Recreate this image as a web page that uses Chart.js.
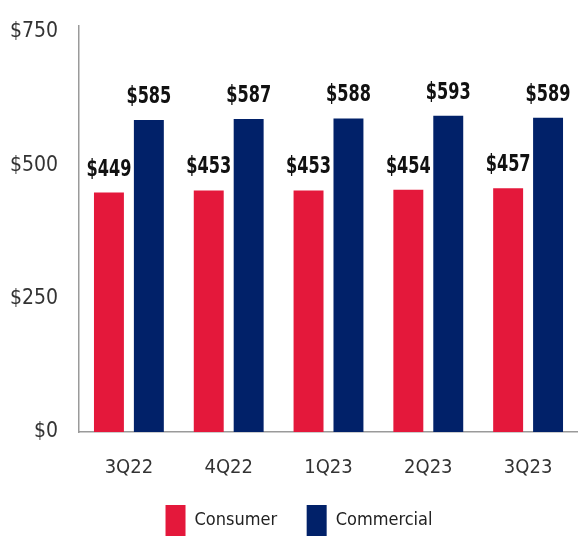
<!DOCTYPE html>
<html>
<head>
<meta charset="utf-8">
<script src="https://cdn.jsdelivr.net/npm/chart.js@4"></script>
<style>
  html, body { margin: 0; padding: 0; background: #fff; }
  #wrap { width: 578px; height: 542px; }
</style>
</head>
<body>
<div id="wrap"><canvas id="chart_depositos"></canvas></div>
<script>
const quarters = ["3Q22", "4Q22", "1Q23", "2Q23", "3Q23"];
const consumer = [449, 453, 453, 454, 457];
const commercial = [585, 587, 588, 593, 589];
const y_ticks = [0, 250, 500, 750];

const fuente = "'DejaVu Sans Condensed', 'DejaVu Sans', sans-serif";

// etiquetas de valor encima de cada barra (comprimidas en horizontal)
const plugin_valores = {
  id: "valores",
  afterLayout: (chart) => {
    // la leyenda del original está algo desplazada a la derecha
    chart.legend.left += 10;
    chart.legend.right += 10;
  },
  afterDatasetsDraw: (chart) => {
    const ctx = chart.ctx;
    ctx.save();
    ctx.font = "bold 23px " + fuente;
    ctx.fillStyle = "#111";
    ctx.textAlign = "center";
    ctx.textBaseline = "alphabetic";
    const escala = 0.78;
    chart.data.datasets.forEach((ds, i) => {
      chart.getDatasetMeta(i).data.forEach((bar, j) => {
        ctx.save();
        ctx.translate(bar.x, bar.y - 17);
        ctx.scale(escala, 1);
        ctx.fillText("$" + ds.data[j], 0, 0);
        ctx.restore();
      });
    });
    ctx.restore();
  },
};

const ctx = document.getElementById("chart_depositos").getContext("2d");
new Chart(ctx, {
  type: "bar",
  data: {
    labels: quarters,
    datasets: [
      {
        label: "Consumer",
        data: consumer,
        backgroundColor: "#e4183b",
        barPercentage: 0.75,
        categoryPercentage: 0.8,
      },
      {
        label: "Commercial",
        data: commercial,
        backgroundColor: "#012169",
        barPercentage: 0.75,
        categoryPercentage: 0.8,
      },
    ],
  },
  options: {
    responsive: true,
    maintainAspectRatio: false,
    animation: false,
    layout: { padding: { top: 4, right: 0, left: 0, bottom: -4 } },
    scales: {
      x: {
        grid: { display: false },
        border: { color: "#9a9a9a", width: 1.5 },
        ticks: { color: "#333", font: { family: fuente, size: 20 }, padding: 16 },
      },
      y: {
        min: 0,
        max: 762,
        afterBuildTicks: (axis) => {
          axis.ticks = y_ticks.map((v) => ({ value: v }));
        },
        afterFit: (axis) => {
          axis.width = 79;
        },
        grid: { display: false },
        border: { color: "#9a9a9a", width: 1.5 },
        ticks: {
          color: "#333",
          font: { family: fuente, size: 21 },
          padding: 13,
          callback: (v) => "$" + v,
        },
      },
    },
    plugins: {
      legend: {
        position: "bottom",
        labels: {
          boxWidth: 20,
          boxHeight: 31,
          padding: 9,
          color: "#222",
          font: { family: fuente, size: 18 },
          // espacio extra tras la primera entrada
          generateLabels: (chart) =>
            Chart.defaults.plugins.legend.labels
              .generateLabels(chart)
              .map((item, i) => (i === 0 ? { ...item, text: item.text + "\u00a0\u00a0\u00a0\u00a0" } : item)),
        },
      },
      tooltip: { enabled: false },
    },
  },
  plugins: [plugin_valores],
});
</script>
</body>
</html>
